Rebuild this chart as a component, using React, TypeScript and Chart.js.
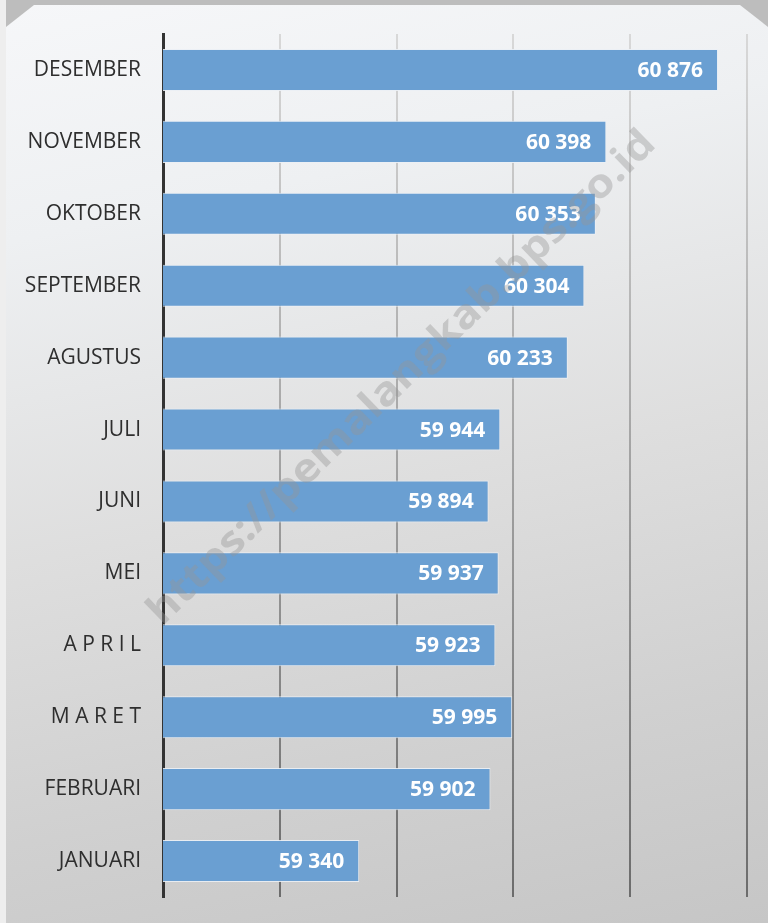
import React, { useEffect, useRef } from "react";
import { Chart, registerables } from "chart.js";

Chart.register(...registerables);

const months = [
  "DESEMBER",
  "NOVEMBER",
  "OKTOBER",
  "SEPTEMBER",
  "AGUSTUS",
  "JULI",
  "JUNI",
  "MEI",
  "A P R I L",
  "M A R E T",
  "FEBRUARI",
  "JANUARI",
];
const values = [60876, 60398, 60353, 60304, 60233, 59944, 59894, 59937, 59923, 59995, 59902, 59340];
const axisMin = 58500;
const axisMax = 61000;
const axisStep = 500;
const watermark = "https://pemalangkab.bps.go.id";

const fmt = (v: number) => {
  const s = String(v);
  return s.slice(0, s.length - 3) + " " + s.slice(s.length - 3);
};

const valueLabels = {
  id: "valueLabels",
  afterDatasetsDraw(chart: any) {
    const ctx = chart.ctx;
    const meta = chart.getDatasetMeta(0);
    ctx.save();
    ctx.fillStyle = "#ffffff";
    ctx.font = "bold 21px 'Open Sans', sans-serif";
    ctx.textAlign = "right";
    ctx.textBaseline = "middle";
    meta.data.forEach((bar: any, i: number) => {
      ctx.fillText(fmt(values[i]), bar.x - 15, bar.y + 1);
    });
    ctx.restore();
  },
};

const watermarkPlugin = {
  id: "watermark",
  afterDraw(chart: any) {
    const ctx = chart.ctx;
    ctx.save();
    ctx.translate(402, 378);
    ctx.rotate(-Math.atan2(485, 500));
    ctx.fillStyle = "rgba(150,150,150,0.4)";
    ctx.font = "bold 40px 'Open Sans', sans-serif";
    ctx.textAlign = "center";
    ctx.textBaseline = "middle";
    const w = ctx.measureText(watermark).width;
    const target = 690;
    ctx.scale(target / w, 1);
    ctx.fillText(watermark, 0, 0);
    ctx.restore();
  },
};

export default function App() {
  const ref = useRef<HTMLCanvasElement | null>(null);

  useEffect(() => {
    document.body.style.margin = "0";
    if (!ref.current) return;
    const chart = new Chart(ref.current, {
      type: "bar",
      data: {
        labels: months,
        datasets: [
          {
            data: values,
            backgroundColor: "#6a9fd2",
            borderColor: "rgba(235,240,245,0.9)",
            borderWidth: 1,
            borderSkipped: false,
            barPercentage: 0.585,
            categoryPercentage: 1,
          },
        ],
      },
      options: {
        indexAxis: "y",
        animation: false,
        responsive: false,
        maintainAspectRatio: false,
        layout: { padding: { top: 34, bottom: 26, right: 21, left: 0 } },
        plugins: { legend: { display: false }, tooltip: { enabled: false } },
        scales: {
          x: {
            min: axisMin,
            max: axisMax,
            afterFit: (s: any) => {
              s.height = 0;
              s.paddingLeft = 0;
              s.paddingRight = 0;
            },
            ticks: { display: false, stepSize: axisStep },
            border: { display: false },
            grid: {
              drawTicks: false,
              lineWidth: 2,
              color: (c: any) => {
                const ch = c.chart;
                const a = ch.chartArea;
                if (!a) return "#999";
                const g = ch.ctx.createLinearGradient(0, a.top, 0, a.bottom);
                g.addColorStop(0, "#d8d8d8");
                g.addColorStop(1, "#6c6c6c");
                return g;
              },
            },
          },
          y: {
            afterFit: (s: any) => {
              s.width = 163;
              s.paddingTop = 0;
              s.paddingBottom = 0;
            },
            ticks: {
              padding: 22,
              color: "#2e2e2e",
              font: { family: "'Open Sans', sans-serif", size: 21 },
            },
            grid: { display: false, drawTicks: false },
            border: { display: true, color: "#333333", width: 3 },
          },
        },
      },
      plugins: [valueLabels, watermarkPlugin],
    });
    return () => chart.destroy();
  }, []);

  return (
    <div
      style={{
        position: "absolute",
        left: 0,
        top: 0,
        width: 768,
        height: 923,
        background: "#f2f2f2",
        overflow: "hidden",
      }}
    >
      <div style={{ position: "absolute", left: 0, top: 0, width: 6, height: 923, background: "#eeeeee" }} />
      <div
        style={{
          position: "absolute",
          left: 6,
          top: 0,
          width: 762,
          height: 923,
          background: "#bdbdbd",
        }}
      />
      <div
        style={{
          position: "absolute",
          left: 6,
          top: 5,
          width: 762,
          height: 918,
          background: "linear-gradient(168deg, #f6f7f9 0%, #eef0f2 22%, #dedede 52%, #d0d0d0 78%, #c6c6c6 100%)",
          clipPath: "polygon(28px 0, 734px 0, 762px 22px, 762px 918px, 0 918px, 0 22px)",
        }}
      />
      <canvas ref={ref} width={768} height={923} style={{ position: "absolute", left: 0, top: 0 }} />
    </div>
  );
}
